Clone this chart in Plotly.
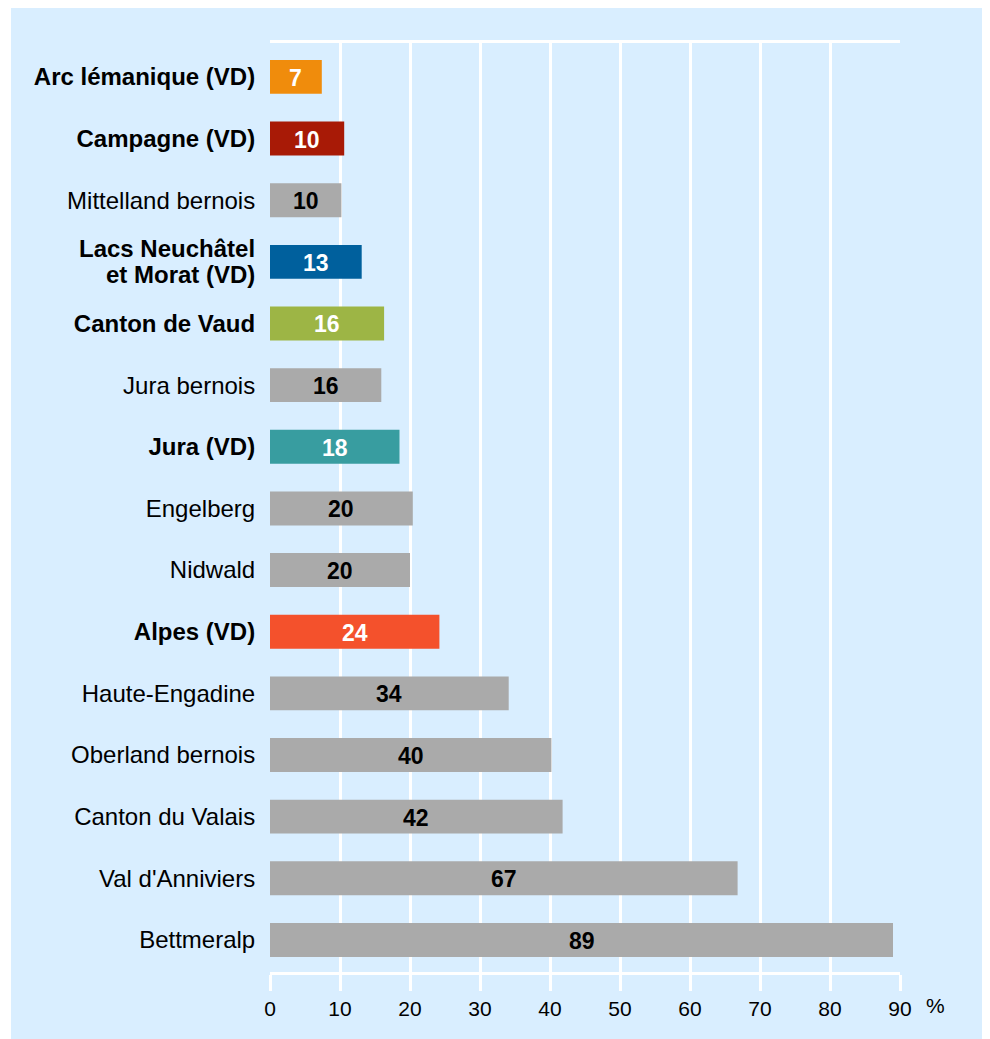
import plotly.graph_objects as go

categories = ["Arc lémanique (VD)", "Campagne (VD)", "Mittelland bernois",
              "Lacs Neuchâtel<br>et Morat (VD)", "Canton de Vaud", "Jura bernois",
              "Jura (VD)", "Engelberg", "Nidwald", "Alpes (VD)", "Haute-Engadine",
              "Oberland bernois", "Canton du Valais", "Val d'Anniviers", "Bettmeralp"]
values = [7.4, 10.6, 10.2, 13.1, 16.3, 15.9, 18.5, 20.4, 20.0, 24.2, 34.1, 40.2, 41.8, 66.8, 89.0]
value_labels = ["7", "10", "10", "13", "16", "16", "18", "20", "20", "24", "34", "40", "42", "67", "89"]
is_vd = [True, True, False, True, True, False, True, False, False, True, False, False, False, False, False]
GRAY = "#aaaaaa"
colors = ["#f08c0c", "#a81a06", GRAY, "#00609d", "#9db545", GRAY, "#389da0",
          GRAY, GRAY, "#f4512c", GRAY, GRAY, GRAY, GRAY, GRAY]
text_colors = ["white" if c != GRAY else "black" for c in colors]
x_ticks = [0, 10, 20, 30, 40, 50, 60, 70, 80, 90]

ids = list(range(len(categories)))
multi = [i for i, c in enumerate(categories) if "<br>" in c]
tick_text = []
for i, (c, b) in enumerate(zip(categories, is_vd)):
    if i in multi:
        tick_text.append("")
    else:
        tick_text.append(f"<b>{c}</b>" if b else c)

BG = "#d9eeff"
FONT = "Liberation Sans, Arial, sans-serif"
fig = go.Figure()
fig.add_trace(go.Bar(
    x=values, y=ids, orientation="h", width=0.55,
    marker=dict(color=colors, line=dict(width=0)),
    hoverinfo="skip",
))
for v, yv, t, tc in zip(values, ids, value_labels, text_colors):
    fig.add_annotation(x=v / 2, y=yv, xref="x", yref="y", text=f"<b>{t}</b>",
                       showarrow=False, xanchor="center", yanchor="middle", yshift=-1,
                       font=dict(size=23, color=tc, family=FONT))

# figure is placed 8px inside the page (body margin)
W, H = 982, 1031
L, R, T, B = 262, 90, 35, 67
pw, ph = W - L - R, H - T - B
fig.add_shape(type="rect", xref="paper", yref="paper", layer="below",
              x0=(3 - L) / pw, x1=(W + 5 - L) / pw,
              y0=(H - B - (H + 5)) / ph, y1=(H - B - 0) / ph,
              fillcolor=BG, line=dict(width=0))

for i in multi:
    lines = categories[i].split("<br>")
    n = len(lines)
    for k, line in enumerate(lines):
        txt = f"<b>{line}</b>" if is_vd[i] else line
        fig.add_annotation(text=txt, xref="paper", yref="y", x=-13 / pw, y=ids[i],
                           yshift=(n - 1) * 13 - k * 26, showarrow=False,
                           xanchor="right", yanchor="middle",
                           font=dict(size=24, color="black", family=FONT))

fig.add_annotation(text="%", xref="paper", yref="paper",
                   x=(927 - L) / pw, y=(H - B - 997) / ph, showarrow=False,
                   xanchor="center", yanchor="middle",
                   font=dict(size=21, color="black", family=FONT))

fig.update_layout(
    width=W, height=H,
    margin=dict(l=L, r=R, t=T, b=B),
    paper_bgcolor="white", plot_bgcolor="rgba(0,0,0,0)",
    showlegend=False,
    font=dict(family=FONT, color="black"),
    xaxis=dict(range=[0, 90], tickvals=x_ticks, ticktext=[str(v) for v in x_ticks],
               showgrid=True, gridcolor="white", gridwidth=3, zeroline=False,
               showline=True, linecolor="white", linewidth=3, mirror=True,
               ticks="outside", ticklen=16, tickcolor="white", tickwidth=3,
               tickfont=dict(size=21, color="black", family=FONT),
               fixedrange=True),
    yaxis=dict(range=[14.52, -0.55], tickvals=ids, ticktext=tick_text,
               showgrid=False, zeroline=False, showline=False,
               ticks="outside", ticklen=9, tickcolor="rgba(0,0,0,0)",
               tickfont=dict(size=24, color="black", family=FONT), fixedrange=True),
)

fig.write_html("out.html")
